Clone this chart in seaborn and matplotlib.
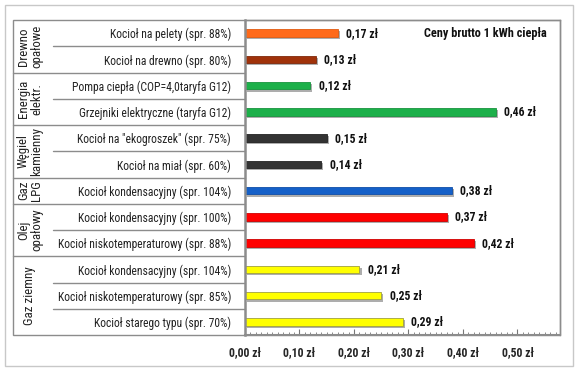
import matplotlib
matplotlib.use('Agg')
import matplotlib.pyplot as plt
import seaborn as sns
import pandas as pd
from matplotlib import patheffects as pe
from matplotlib.patches import Rectangle
from matplotlib.lines import Line2D
from matplotlib.ticker import MultipleLocator, FuncFormatter
from matplotlib.transforms import blended_transform_factory
from matplotlib import font_manager as fm

sns.set_style('white')
faces = {}
for f in fm.fontManager.ttflist:
    if f.style == 'normal':
        faces.setdefault(f.name, set()).add(f.weight if isinstance(f.weight, int) else 400)
prefs = ['Liberation Sans Narrow', 'Arial Narrow', 'Roboto Condensed', 'Archivo Narrow',
         'Asap Condensed', 'PT Sans Narrow', 'Open Sans Condensed', 'Barlow Semi Condensed',
         'Barlow Condensed', 'Fira Sans Condensed']
fam = None
for p in prefs:
    if p in faces and any(w >= 600 for w in faces[p]) and any(w <= 450 for w in faces[p]):
        fam = p
        break
plt.rcParams['font.family'] = ([fam] if fam else []) + ['Liberation Sans', 'DejaVu Sans']

categories = [
    "Kocioł na pelety (spr. 88%)",
    "Kocioł na drewno (spr. 80%)",
    "Pompa ciepła (COP=4,0taryfa G12)",
    "Grzejniki elektryczne (taryfa G12)",
    "Kocioł na \"ekogroszek\" (spr. 75%)",
    "Kocioł na miał (spr. 60%)",
    "Kocioł kondensacyjny (spr. 104%)",
    "Kocioł kondensacyjny (spr. 100%) ",
    "Kocioł niskotemperaturowy (spr. 88%)",
    "Kocioł kondensacyjny (spr. 104%) ",
    "Kocioł niskotemperaturowy (spr. 85%)",
    "Kocioł starego typu (spr. 70%)",
]
values = [0.17, 0.13, 0.12, 0.46, 0.15, 0.14, 0.38, 0.37, 0.42, 0.21, 0.25, 0.29]
bar_colors = ["#FF6A1A", "#A0320A", "#1DB04A", "#1DB04A", "#333333", "#333333",
              "#1560C8", "#FF0000", "#FF0000", "#FFFF00", "#FFFF00", "#FFFF00"]
edge_colors = ["#E05A10", "#80280A", "#18943E", "#18943E", "#222222", "#222222",
               "#104EA8", "#D00000", "#D00000", "#A0A040", "#A0A040", "#A0A040"]
groups = ["Drewno\nopałowe", "Energia\nelektr.", "Węgiel\nkamienny", "Gaz\nLPG",
          "Olej\nopałowy", "Gaz ziemny"]
group_sizes = [2, 2, 2, 1, 2, 3]
title = "Ceny brutto 1 kWh ciepła"

W, H = 577, 371
fig = plt.figure(figsize=(W / 100, H / 100), dpi=100)
ax = fig.add_axes([245 / W, 1 - 335 / H, (560 - 245) / W, (335 - 20) / H])

df = pd.DataFrame({'cat': categories, 'val': values})
sns.barplot(data=df, x='val', y='cat', hue='cat', palette=bar_colors, legend=False,
            width=0.29, ax=ax, orient='h', saturation=1)

for p, ec in zip(ax.patches, edge_colors):
    p.set_edgecolor(ec)
    p.set_linewidth(0.6)
    p.set_path_effects([pe.SimplePatchShadow(offset=(1.5, -1.5), shadow_rgbFace='#999999', alpha=0.8),
                        pe.Normal()])

ax.set_xlim(0, 0.578)
ax.set_ylim(11.5, -0.5)
ax.xaxis.set_major_locator(MultipleLocator(0.1))
ax.xaxis.set_minor_locator(MultipleLocator(0.01))
ax.xaxis.set_major_formatter(FuncFormatter(lambda x, pos: f"{x:.2f} zł".replace('.', ',')))
ax.tick_params(axis='x', which='major', direction='in', length=4, color='#777777',
               labelsize=8.5, pad=8, bottom=True)
ax.tick_params(axis='x', which='minor', direction='in', length=2.5, color='#777777', bottom=True)
for t in ax.get_xticklabels():
    t.set_fontweight('bold')
ax.set_yticks(range(len(categories)))
ax.set_yticklabels([c.strip() for c in categories])
ax.tick_params(axis='y', length=0, labelsize=8.4, pad=10, labelcolor='#222222')
ax.set_xlabel('')
ax.set_ylabel('')

for side, lw in [('left', 1.8), ('bottom', 1.5), ('top', 1.0), ('right', 1.0)]:
    ax.spines[side].set_visible(True)
    ax.spines[side].set_color('#8c8c8c')
    ax.spines[side].set_linewidth(lw)

trans = blended_transform_factory(fig.transFigure, ax.transData)
group_bounds = set()
s = 0
for n in group_sizes[:-1]:
    s += n
    group_bounds.add(s)
for b in range(1, len(categories)):
    x0 = 13 / W if b in group_bounds else 53 / W
    fig.add_artist(Line2D([x0, 245 / W], [b - 0.5, b - 0.5], transform=trans,
                          color='#8c8c8c', lw=1))

fig.add_artist(Rectangle((13 / W, 1 - 335 / H), (560 - 13) / W, 315 / H, fill=False,
                         ec='#8c8c8c', lw=1, transform=fig.transFigure))
fig.add_artist(Rectangle((5 / W, 1 - 366 / H), (573 - 5) / W, 361 / H, fill=False,
                         ec='#c8c8c8', lw=1, transform=fig.transFigure))

s = 0
for g, n in zip(groups, group_sizes):
    c = s + (n - 1) / 2
    fig.text(30 / W, c, g, transform=trans, rotation=90, ha='center', va='center',
             fontsize=9.3, multialignment='center', linespacing=1.0, color='#222222')
    s += n

for i, v in enumerate(values):
    ax.annotate(f"{v:.2f} zł".replace('.', ','), xy=(v, i), xytext=(6, 0),
                textcoords='offset points', va='center', ha='left',
                fontweight='bold', fontsize=8.5, color='#111111')

fig.text(547 / W, 1 - 33 / H, title, ha='right', va='center', fontsize=8.8,
         fontweight='bold', color='#111111')

fig.savefig('out.png', dpi=100)
